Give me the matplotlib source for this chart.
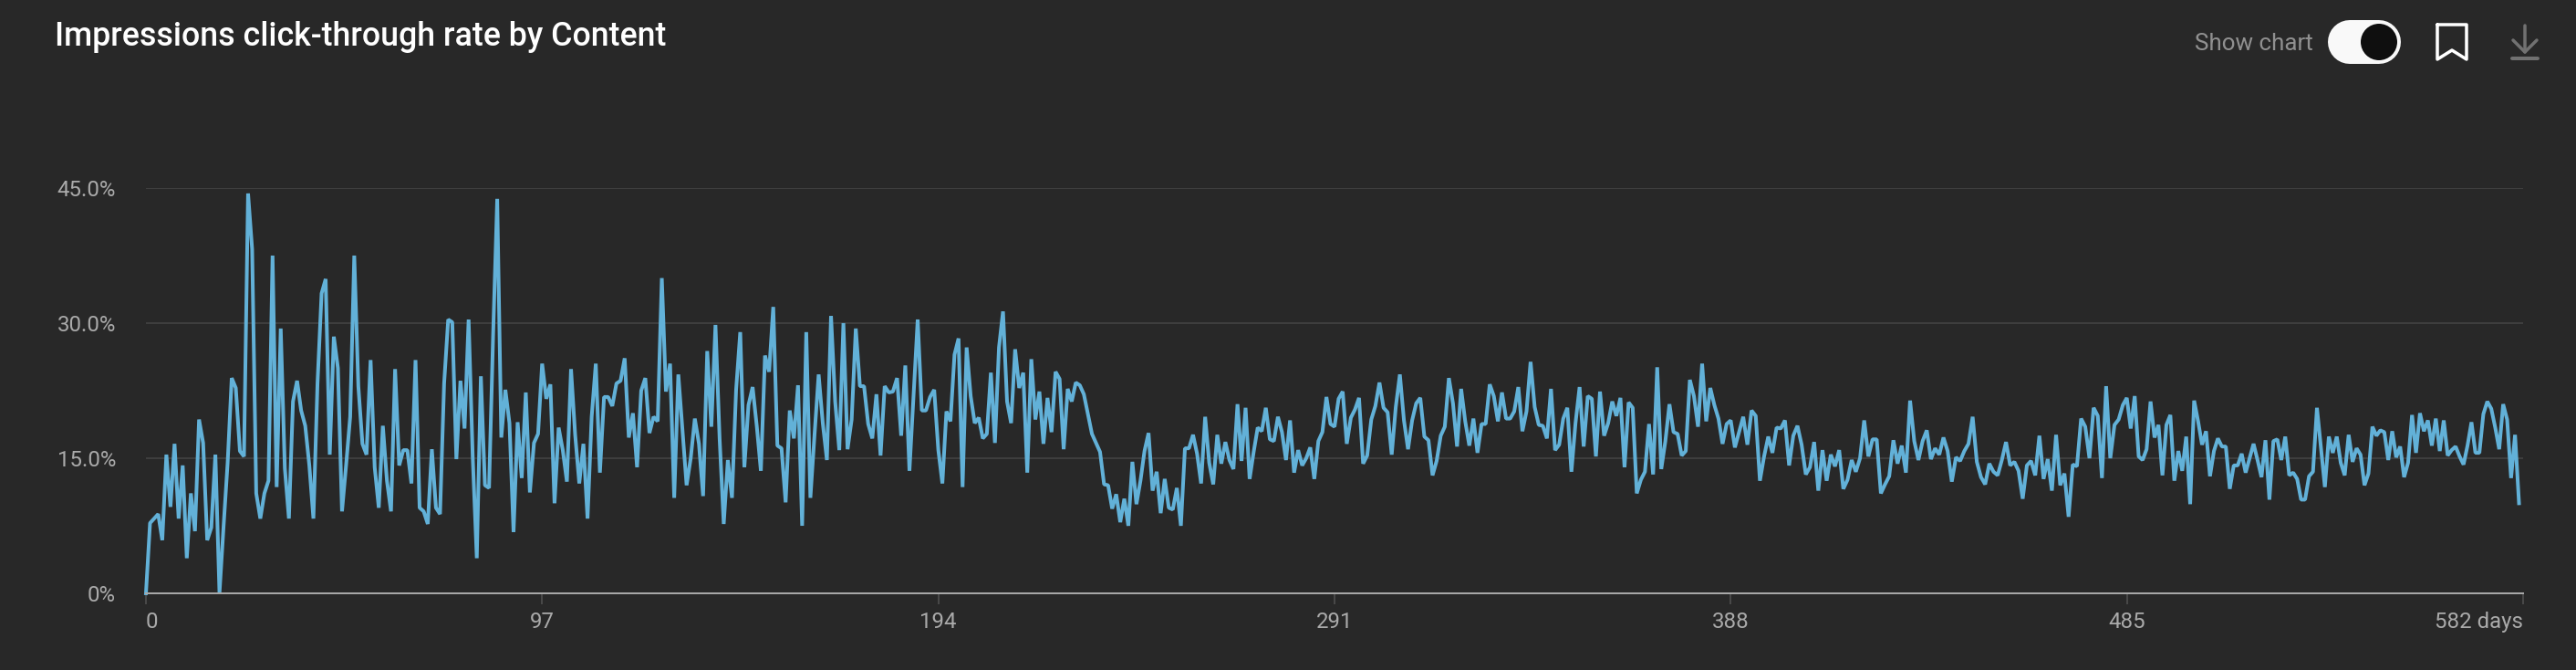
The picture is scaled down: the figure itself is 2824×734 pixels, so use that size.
import numpy as np
import matplotlib
matplotlib.use("Agg")
import matplotlib.pyplot as plt
from matplotlib.patches import Circle

plt.rcParams['font.family'] = ['Roboto', 'DejaVu Sans']

W, H = 2824, 734
DPI = 100
PX = 72 / DPI  # one pixel in points

BG = '#282828'
LINE = '#62b1d8'

title = 'Impressions click-through rate by Content'
y_ticks = [0, 15, 30, 45]
y_labels = ['0%', '15.0%', '30.0%', '45.0%']
x_ticks = [0, 97, 194, 291, 388, 485, 582]
x_labels = ['0', '97', '194', '291', '388', '485', '582 days']

# day where each run of readings below ends (one crop of the picture each)
section_end_days = [97, 194, 291, 388, 484, 581]

ctr_a = [0, 7.8, 8.3, 8.8, 5.9, 15.4, 9.6, 16.6, 8.3, 14.2, 3.9, 11.1, 6.9, 19.3, 16.7, 5.9, 7.3, 15.4, 0,
         7.4, 14.5, 23.9, 22.8, 15.8, 15.2, 44.4, 38.2, 11.1, 8.3, 11.1, 12.5, 37.5, 11.8, 29.4, 13.9, 8.3, 21.3,
         23.6, 20.3, 18.6, 14.2, 8.3, 23.3, 33.3, 34.9, 15.4, 28.5, 25, 9.1, 14.2, 19.6, 37.5, 23, 16.6, 15.4, 25.9,
         14, 9.5, 18.6, 12.5, 9.1, 24.9, 14.2, 15.9, 15.9, 12.2, 25.9, 9.5, 9.1, 7.7, 16, 9.5, 8.8, 23.3, 30.4, 30.1,
         14.9, 23.6, 18.3, 30.4, 15.2, 3.9, 24.1, 12, 11.7, 28.7, 43.8, 17.3, 22.6, 18.9, 6.8, 19, 12.8, 22.3, 11.2,
         16.7, 17.7, 25.5]
ctr_b = [21.6, 23.2, 10, 18.4, 15.9, 12.4, 24.9, 17.6, 12.2, 16.6, 8.3, 19.6, 25.5, 13.4, 21.8, 21.8, 20.8, 23.3,
         23.6, 26.1, 17.3, 20, 14, 22.5, 23.9, 17.8, 19.6, 19.1, 35, 22.4, 25.5, 10.6, 24.3, 18.2, 12, 15, 19.4, 16.6,
         10.8, 26.9, 18.5, 29.8, 17.2, 7.7, 14.8, 10.6, 22.6, 29, 14, 20.9, 22.9, 18.6, 13.6, 26.4, 24.6, 31.8, 16.4,
         16.1, 10.1, 20.3, 17.2, 23.1, 7.5, 29, 10.6, 17.6, 24.3, 18.9, 14.8, 30.8, 21.3, 15.9, 30, 16, 19.3, 29.4, 23,
         23, 18.8, 17.2, 22.1, 15.3, 23, 22.3, 22.4, 23.9, 17.5, 25.3, 13.6, 22, 30.4, 20.3, 20.3, 21.8, 22.6, 15.9]
ctr_c = [12.2, 20.2, 19.1, 26.5, 28.3, 11.8, 27.3, 21.9, 18.9, 19.5, 17.2, 17.7, 24.5, 16.7, 27.3, 31.3, 21.3, 18.9,
         27.1, 22.8, 24.5, 13.4, 26, 19.3, 22.4, 16.6, 21.7, 17.9, 24.6, 23.8, 16, 22.7, 21.3, 23.4, 23.1, 22.1, 19.9,
         17.7, 16.7, 15.7, 12.1, 12, 9.4, 11, 7.9, 10.5, 7.5, 14.6, 9.9, 12.5, 15.8, 17.8, 11.4, 13.5, 8.9, 12.7, 9.5,
         9.3, 11.7, 7.5, 16.1, 16.1, 17.6, 15.5, 12.2, 19.6, 14.5, 12.1, 17.6, 14.4, 16.8, 14.8, 13.8, 21, 14.7, 20.6,
         12.7, 15.7, 18.4, 18, 20.6, 17.1, 16.9, 19.6, 17.9, 14.8, 19.2, 13.4, 15.9, 14.2, 15, 16.2, 12.7, 16.9, 17.9,
         21.8, 18.8, 18.5]
ctr_d = [21.6, 22.4, 16.6, 19.5, 20.4, 21.7, 14.4, 15.3, 19.3, 20.8, 23.4, 20.6, 20.1, 15.4, 20.7, 24.3, 19.2, 16,
         19.2, 21.1, 21.7, 17.4, 17, 13.1, 14.7, 17.5, 18.5, 23.9, 21.1, 16.3, 22.7, 19.1, 16.4, 19.4, 15.6, 18.8, 18.8,
         23.2, 21.9, 19.1, 22.3, 19.4, 19.4, 20.2, 22.9, 18, 20.2, 25.7, 20.7, 18.7, 18.6, 17.2, 22.7, 15.9, 16.5, 19.4,
         20.6, 13.5, 18.9, 22.9, 16.3, 21.9, 21.6, 15.2, 22.4, 17.5, 18.9, 21.3, 19.7, 21.7, 14, 21.2, 20.6, 11.1, 12.6,
         13.5, 18.8, 13.2, 25.1, 13.8, 16.9, 21, 17.9, 17.7, 15.3, 15.8, 23.7, 21.9, 18.5, 25.5, 19.1, 22.8, 20.9, 19.4,
         16.6, 18.8, 19.2]
ctr_e = [16.2, 17.9, 19.6, 16.5, 20.3, 19.7, 12.5, 15.2, 17.4, 15.6, 18.4, 18.3, 19.2, 14.2, 17.5, 18.6, 16.5, 13.2,
         14, 16.8, 11.4, 15.9, 12.5, 15.4, 14.1, 15.9, 11.6, 12.6, 14.8, 13.5, 15, 19.2, 15.2, 17.1, 17.1, 11.1, 12.1,
         13, 17, 14.4, 16.4, 13.4, 21.4, 16.9, 14.8, 16.9, 18.1, 14.9, 16.1, 15.4, 17.3, 15.8, 12.4, 15.1, 14.7, 15.8,
         16.6, 19.6, 14.6, 12.9, 12.1, 14.4, 13.5, 13.1, 14.8, 16.8, 14.2, 14.6, 13.6, 10.5, 14.2, 14.7, 13.1, 17.5, 12.7,
         14.9, 11.4, 17.6, 12, 13.3, 8.5, 14.3, 14.1, 19.4, 18.5, 15, 20.6, 19.7, 12.8, 23, 15, 18.7, 19.3, 20.9]
ctr_f = [21.7, 18.3, 21.9, 15.2, 14.8, 16, 21.3, 17.3, 18.7, 13.1, 18.7, 19.8, 12.5, 15.8, 13.6, 17.4, 9.9, 21.4, 19.1,
         16.5, 18, 13, 15.8, 17.2, 16.3, 16.3, 11.6, 14.2, 14.2, 15.5, 13.4, 15, 16.6, 14.8, 12.9, 17, 10.4, 16.9, 17.1,
         14.8, 17.4, 13.1, 13.4, 12.7, 10.4, 10.4, 13, 13.5, 20.6, 16.2, 11.8, 17.4, 15.6, 17.4, 14.5, 13.1, 17.6, 14.6,
         16.1, 15.4, 12, 13.3, 18.5, 17.5, 18.1, 17.9, 14.8, 18, 15.1, 16.3, 12.9, 14.5, 19.8, 15.6, 20, 18, 19.2, 16.4,
         19.4, 15.8, 19.2, 15.3, 15.9, 16.3, 15.2, 14.3, 16.4, 19, 15.6, 15.6, 19.9, 21.3, 20.5, 18.4, 16, 21, 19.3, 12.8,
         17.6, 10]

parts = [ctr_a, ctr_b, ctr_c, ctr_d, ctr_e, ctr_f]

# spread the readings of each crop evenly over the days that crop covers
days = [np.array([0.0])]
start = 0
for part, end in zip(parts, section_end_days):
    n = len(part) - 1 if part is ctr_a else len(part)
    days.append(np.linspace(start, end, n + 1)[1:])
    start = end
days = np.concatenate(days)
ctr = np.concatenate(parts)

fig = plt.figure(figsize=(W / DPI, H / DPI), dpi=DPI, facecolor=BG)
ax = fig.add_axes([160 / W, 1 - 650 / H, (2766 - 160) / W, (650 - 206) / H], facecolor=BG)

ax.plot(days, ctr, color=LINE, lw=4 * PX, solid_joinstyle='bevel', clip_on=False, zorder=3)

ax.set_xlim(0, 582)
ax.set_ylim(0, 45)
for s in ['top', 'left', 'right']:
    ax.spines[s].set_visible(False)
ax.spines['bottom'].set_color('#a8a8a8')
ax.spines['bottom'].set_linewidth(2 * PX)
ax.spines['bottom'].set_zorder(4)

ax.set_yticks(y_ticks)
ax.set_yticklabels(y_labels, va='center_baseline')
ax.set_xticks(x_ticks)
ax.set_xticklabels(x_labels)
ax.tick_params(axis='y', length=0, pad=33 * PX, labelsize=24 * PX, labelcolor='#aaaaaa')
ax.tick_params(axis='x', length=12 * PX, width=2 * PX, color='#484848', pad=8 * PX,
               labelsize=24 * PX, labelcolor='#aaaaaa')
ax.grid(axis='y', color='#3e3e3e', lw=2 * PX)
ax.set_axisbelow(True)
xlabs = ax.get_xticklabels()
xlabs[0].set_ha('left')
xlabs[-1].set_ha('right')

# header and controls, drawn in figure pixels
ui = fig.add_axes([0, 0, 1, 1], facecolor='none')
ui.set_xlim(0, W)
ui.set_ylim(H, 0)
ui.axis('off')

ui.text(60, 50, title, color='white', fontsize=35.8 * PX, fontweight='medium', va='baseline', ha='left')
ui.text(2406, 55, 'Show chart', color='#909090', fontsize=26 * PX, va='baseline', ha='left')

ui.plot([2576, 2608], [46, 46], color='#f9f9f9', lw=48 * PX, solid_capstyle='round')
ui.add_patch(Circle((2608, 46), 20, fc='#0f0f0f', ec='none', zorder=5))

ui.plot([2672, 2704, 2704, 2688, 2672, 2672], [27, 27, 65, 55, 65, 27], color='white', lw=3.5 * PX,
        solid_joinstyle='round', solid_capstyle='round')

ui.plot([2768, 2768], [28, 57], color='#717171', lw=3.5 * PX, solid_capstyle='round')
ui.plot([2755, 2768, 2781], [44, 57, 44], color='#717171', lw=3.5 * PX, solid_joinstyle='round',
        solid_capstyle='round')
ui.plot([2754, 2782], [64, 64], color='#717171', lw=4 * PX, solid_capstyle='round')

fig.savefig('out.png', dpi=DPI, facecolor=BG)
